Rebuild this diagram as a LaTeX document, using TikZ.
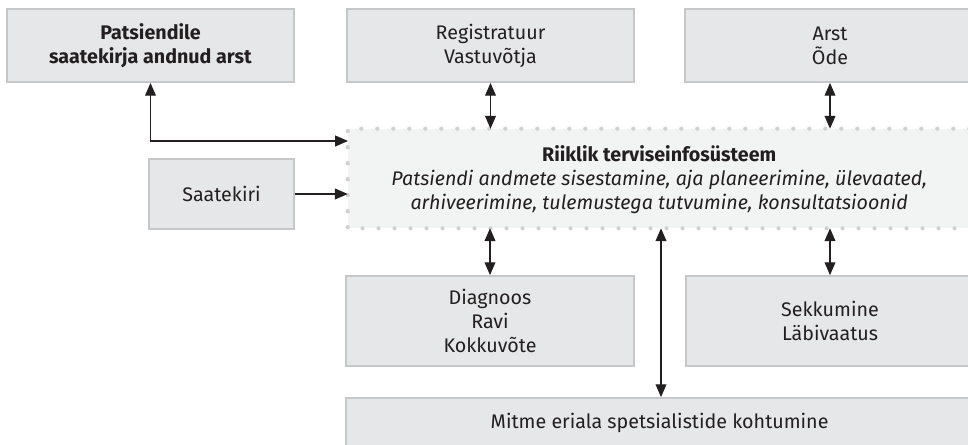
\documentclass[tikz,border=0pt]{standalone}
\usepackage{fontspec}
\setmainfont{Fira Sans}
\usetikzlibrary{arrows.meta,calc}
\definecolor{boxgray}{HTML}{E6E7E8}
\definecolor{boxline}{HTML}{C6C7C8}
\definecolor{sysgray}{HTML}{F2F3F3}
\definecolor{dotgray}{HTML}{D0D1D2}
\definecolor{ink}{HTML}{231F20}
\begin{document}
\begin{tikzpicture}[
box/.style={draw=boxline, fill=boxgray, line width=1.3pt, align=center, inner sep=0pt, text=ink, font=\fontsize{14}{17}\selectfont},
link/.style={ink, line width=0.85pt, {Triangle[length=0.32cm,width=0.27cm]}-{Triangle[length=0.32cm,width=0.27cm]}},
go/.style={ink, line width=0.85pt, -{Triangle[length=0.32cm,width=0.27cm]}}
]
\clip (0,0) rectangle (24.2,11.1);
\fill[white] (0,0) rectangle (24.2,11.1);

\node[box, minimum width=7.175cm, minimum height=1.825cm] (arstsaat) at (3.7625,9.9625) {\textbf{Patsiendile}\\\textbf{saatekirja andnud arst}};
\node[box, minimum width=7.175cm, minimum height=1.825cm] (registr) at (12.2625,9.9625) {Registratuur\\Vastuvõtja};
\node[box, minimum width=7.25cm, minimum height=1.825cm] (arst) at (20.75,9.9625) {Arst\\Õde};

\node[fill=sysgray, minimum width=15.925cm, minimum height=2.475cm, inner sep=0pt] (sys) at (16.6625,6.6375) {};
\draw[dotgray, line width=3pt, line cap=round, dash pattern=on 0pt off 0.4cm] (sys.north east) -- (sys.north west) -- (sys.south west) -- (sys.south east);
\node[align=center, text=ink, font=\fontsize{14}{17}\selectfont] (systxt) at (16.48,6.6) {\textbf{Riiklik terviseinfosüsteem}\\\textit{Patsiendi andmete sisestamine, aja planeerimine, ülevaated,}\\\textit{arhiveerimine, tulemustega tutvumine, konsultatsioonid}};

\node[box, minimum width=3.625cm, minimum height=1.75cm] (saate) at (5.5375,6.25) {Saatekiri};

\node[box, minimum width=7.2cm, minimum height=2.25cm] (diagn) at (12.25,3.075) {Diagnoos\\Ravi\\Kokkuvõte};
\node[box, minimum width=7.2cm, minimum height=2.25cm] (sekk) at (20.75,3.075) {Sekkumine\\Läbivaatus};
\node[box, minimum width=16.1cm, minimum height=1.55cm] (mitme) at (16.7,0.375) {};
\node[text=ink, font=\fontsize{14}{17}\selectfont] (mitmetxt) at (16.49,0.52) {Mitme eriala spetsialistide kohtumine};

\coordinate (pk) at (8.7,7.575);
\coordinate (mk) at (16.525,0);

\draw[link] (arstsaat.south) |- (pk);
\draw[go] (saate.east) -- (saate.east -| sys.west);
\draw[link] (registr.south) -- (registr.south |- sys.north);
\draw[link] (arst.south) -- (arst.south |- sys.north);
\draw[link] (diagn.north) -- (diagn.north |- sys.south);
\draw[link] (sekk.north) -- (sekk.north |- sys.south);
\draw[link] (mk |- sys.south) -- (mk |- mitme.north);
\end{tikzpicture}
\end{document}
